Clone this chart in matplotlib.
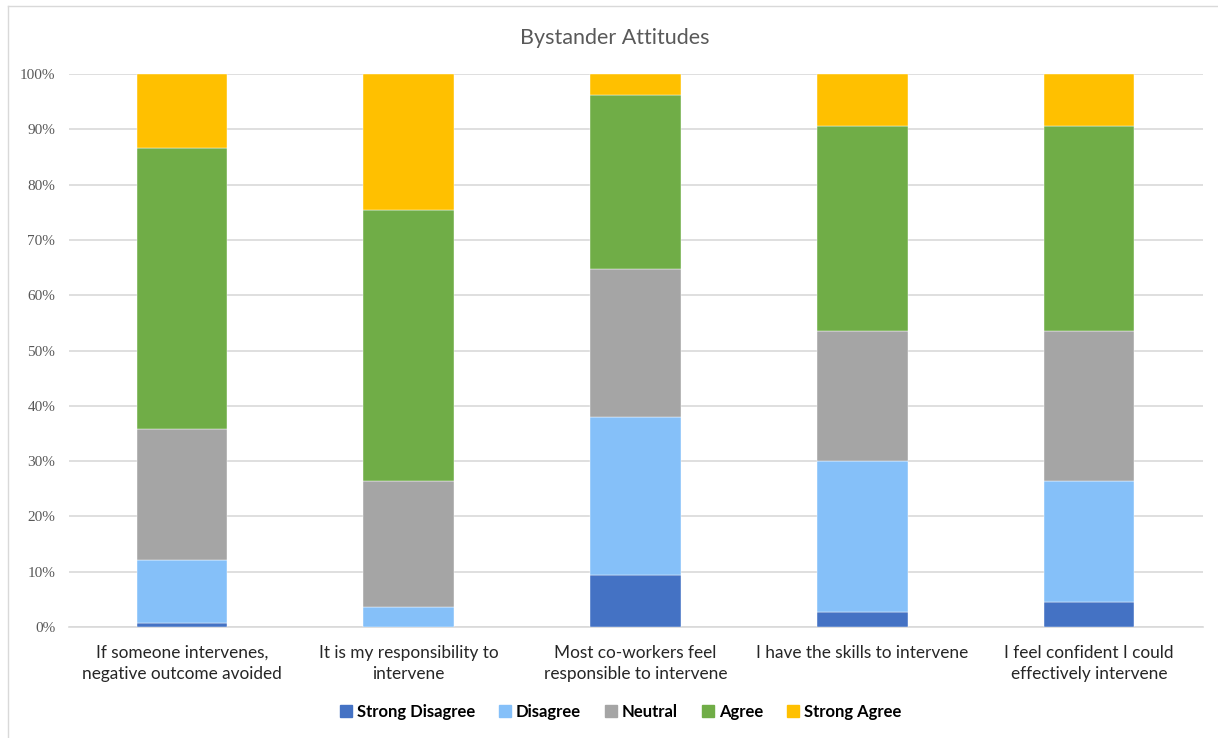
import matplotlib
matplotlib.use("Agg")
import matplotlib.pyplot as plt
from matplotlib.lines import Line2D
import numpy as np

categories = [
    "If someone intervenes,\nnegative outcome avoided",
    "It is my responsibility to\nintervene",
    "Most co-workers feel\nresponsible to intervene",
    "I have the skills to intervene",
    "I feel confident I could\neffectively intervene",
]
series_names = ["Strong Disagree", "Disagree", "Neutral", "Agree", "Strong Agree"]
strong_disagree = [0.8, 0.0, 9.4, 2.8, 4.6]
disagree = [11.4, 3.6, 28.5, 27.3, 21.8]
neutral = [23.6, 22.8, 26.8, 23.5, 27.2]
agree = [50.9, 49.0, 31.5, 37.0, 37.0]
strong_agree = [13.3, 24.6, 3.8, 9.4, 9.4]
colors = ["#4472C4", "#85C0F9", "#A5A5A5", "#70AD47", "#FFC000"]
yticks = [0, 10, 20, 30, 40, 50, 60, 70, 80, 90, 100]
ytick_labels = [f"{t}%" for t in yticks]

W, H = 1218, 738
fig = plt.figure(figsize=(W / 100, H / 100), dpi=100)
ax = fig.add_axes([68.5 / W, (H - 627) / H, (1202.5 - 68.5) / W, (627 - 74) / H])

data = [strong_disagree, disagree, neutral, agree, strong_agree]
x = np.arange(len(categories))
bottom = np.zeros(len(categories))
for name, vals, c in zip(series_names, data, colors):
    vals = np.array(vals, dtype=float)
    ax.bar(x, vals, bottom=bottom, width=0.4, color=c, label=name, zorder=3,
           edgecolor="white", linewidth=0.3)
    bottom += vals

ax.set_xlim(-0.5, len(categories) - 0.5)
ax.set_ylim(0, 100)
ax.set_yticks(yticks)
ax.set_yticklabels(ytick_labels, family="Liberation Serif", fontsize=11, color="#595959")
ax.set_xticks(x)
ax.set_xticklabels(categories, family="Lato", fontsize=12.4, color="#262626", linespacing=1.35)
ax.tick_params(axis="both", length=0)
ax.tick_params(axis="x", pad=13)
ax.tick_params(axis="y", pad=9.5)
ax.grid(axis="y", color="#D9D9D9", linewidth=1.2, zorder=0)
for s in ["top", "right", "left"]:
    ax.spines[s].set_visible(False)
ax.spines["bottom"].set_color("#D9D9D9")
ax.spines["bottom"].set_linewidth(1.2)

fig.text(615 / W, 1 - 38 / H, "Bystander Attitudes", ha="center", va="center",
         fontsize=15.5, color="#595959", family="Lato")

handles = [Line2D([0], [0], marker="s", linestyle="none", markersize=8.5,
                  markerfacecolor=c, markeredgecolor=c) for c in colors]
fig.legend(handles, series_names, loc="center", bbox_to_anchor=(621 / W, 1 - 712 / H),
           ncol=5, frameon=False, prop={"family": "Lato", "weight": "bold", "size": 12},
           handlelength=0.6, handletextpad=0.35, columnspacing=1.5)

# chart border
fig.add_artist(Line2D([8 / W, 8 / W], [0, 1 - 6 / H], transform=fig.transFigure,
                      color="#D9D9D9", linewidth=1))
fig.add_artist(Line2D([8 / W, 1], [1 - 6 / H, 1 - 6 / H], transform=fig.transFigure,
                      color="#D9D9D9", linewidth=1))

fig.savefig("out.png", dpi=100)
